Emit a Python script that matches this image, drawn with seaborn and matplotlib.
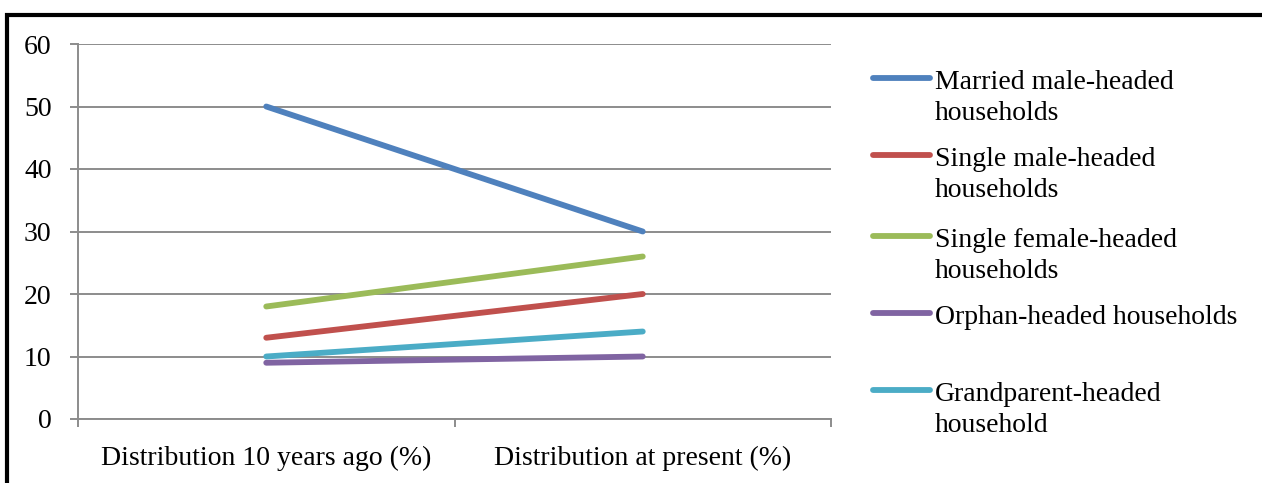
import matplotlib
matplotlib.use("Agg")
import matplotlib.pyplot as plt
from matplotlib.lines import Line2D
from matplotlib.patches import Rectangle
import pandas as pd
import seaborn as sns

# Household-type distribution, then and now
categories = ["Distribution 10 years ago (%)", "Distribution at present (%)"]
series = [
    "Married male-headed\nhouseholds",
    "Single male-headed\nhouseholds",
    "Single female-headed\nhouseholds",
    "Orphan-headed households",
    "Grandparent-headed\nhousehold",
]
married_male = [50, 30]
single_male = [13, 20]
single_female = [18, 26]
orphan = [9, 10]
grandparent = [10, 14]
colors = ["#4F81BD", "#C0504D", "#9BBB59", "#8064A2", "#4BACC6"]
y_ticks = [0, 10, 20, 30, 40, 50, 60]

values = [married_male, single_male, single_female, orphan, grandparent]
rows = []
for name, vals in zip(series, values):
    for cat, v in zip(categories, vals):
        rows.append({"category": cat, "value": v, "series": name})
df = pd.DataFrame(rows)

sns.set_theme(style="white")
plt.rcParams["font.family"] = ["Liberation Serif", "DejaVu Serif"]

FS = 20
LW = 4.2

fig = plt.figure(figsize=(12.62, 4.83), dpi=100)
ax = fig.add_axes([78 / 1262, 1 - 419 / 483, (831 - 78) / 1262, (419 - 44) / 483])

sns.lineplot(
    data=df, x="category", y="value", hue="series", hue_order=series,
    palette=colors, sort=False, legend=False, linewidth=LW, ax=ax,
    solid_capstyle="round",
)

grid_color = "#8C8C8C"
ax.set_xlim(-0.5, 1.5)
ax.set_ylim(0, 60)
ax.set_yticks(y_ticks)
ax.set_yticklabels([str(t) for t in y_ticks])
ax.set_xticks([0, 1])
ax.set_xticklabels(categories)
ax.set_xlabel("")
ax.set_ylabel("")
ax.yaxis.grid(True, color=grid_color, linewidth=1.4)
ax.set_axisbelow(True)
for side in ["top", "right"]:
    ax.spines[side].set_visible(False)
for side in ["left", "bottom"]:
    ax.spines[side].set_color(grid_color)
    ax.spines[side].set_linewidth(1.4)

ax.tick_params(axis="y", which="major", left=True, length=6, width=1.4,
               color=grid_color, labelsize=FS, pad=13, labelcolor="black")
# x ticks sit on the category boundaries
ax.set_xticks([-0.5, 0.5, 1.5], minor=True)
ax.tick_params(axis="x", which="major", bottom=False, labelsize=FS, pad=13,
               labelcolor="black")
ax.tick_params(axis="x", which="minor", bottom=True, length=6, width=1.4,
               color=grid_color)

# Legend drawn beside the plot, handle aligned with first text line
legend_y = [78, 155, 236, 313, 390]
for name, col, yy in zip(series, colors, legend_y):
    yf = 1 - yy / 483
    fig.add_artist(Line2D([873 / 1262, 930 / 1262], [yf, yf], color=col,
                          linewidth=LW, solid_capstyle="round"))
    fig.text(935 / 1262, yf + 8 / 483, name, fontsize=FS, va="top",
             ha="left", color="black", linespacing=1.33)

# Outer black frame
fig.add_artist(Rectangle((7 / 1262, -0.1), 1.2, 1 - 15 / 483 + 0.1,
                         transform=fig.transFigure, fill=False,
                         edgecolor="black", linewidth=3))

fig.savefig("out.png", dpi=100)
